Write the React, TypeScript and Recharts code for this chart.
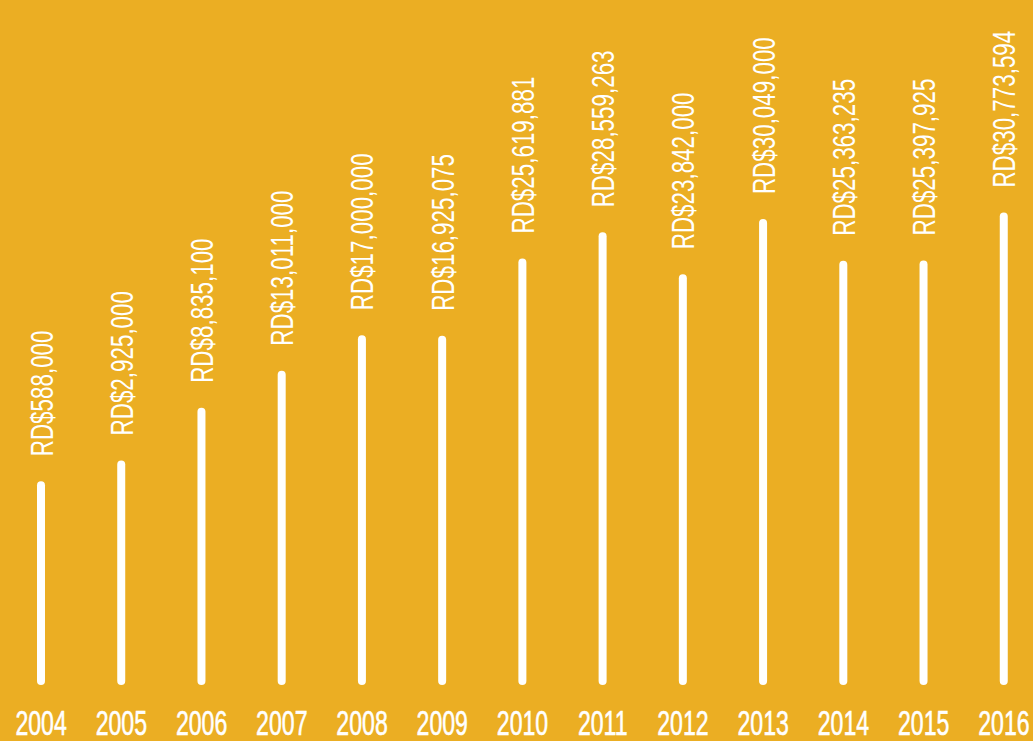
import { BarChart, Bar, XAxis, YAxis, LabelList } from "recharts";

const years = ["2004", "2005", "2006", "2007", "2008", "2009", "2010", "2011", "2012", "2013", "2014", "2015", "2016"];
const amounts = [588000, 2925000, 8835100, 13011000, 17000000, 16925075, 25619881, 28559263, 23842000, 30049000, 25363235, 25397925, 30773594];

const BG = "#EBAE23";
// the bars do not start at zero in the original, so the scale has a floor below it
const AXIS_MIN = -22310000;
const AXIS_MAX = 35000000;

const data = years.map((year, i) => ({ year, value: amounts[i] }));

const ValueLabel = (props: any) => {
  const { x, y, width, height, value } = props;
  const top = Math.min(y, y + height);
  const cx = x + width / 2;
  return (
    <text
      transform={`translate(${cx}, ${top - 25}) rotate(-90) scale(0.7, 1)`}
      y={11.5}
      fill="#fff"
      fontSize={32}
      fontFamily="'Liberation Sans', Arial, sans-serif"
      textAnchor="start"
    >
      {"RD$" + Number(value).toLocaleString("en-US")}
    </text>
  );
};

const YearTick = (props: any) => {
  const { x, y, payload } = props;
  return (
    <text
      transform={`translate(${x}, ${y + 50}) scale(0.66, 1)`}
      fill="#fff"
      fontSize={35}
      stroke="#fff"
      strokeWidth={0.6}
      fontFamily="'Liberation Sans', Arial, sans-serif"
      textAnchor="middle"
    >
      {payload.value}
    </text>
  );
};

export default function App() {
  return (
    <div style={{ position: "fixed", top: 0, left: 0, width: 1033, height: 741, overflow: "hidden", background: BG }}>
      <BarChart
        width={1044}
        height={741}
        data={data}
        margin={{ top: 175, right: 0, left: 1, bottom: 0 }}
        barCategoryGap={0}
      >
        <XAxis
          dataKey="year"
          height={56}
          axisLine={false}
          tickLine={false}
          tickSize={0}
          tickMargin={0}
          interval={0}
          tick={<YearTick />}
        />
        <YAxis hide type="number" domain={[AXIS_MIN, AXIS_MAX]} allowDataOverflow />
        <Bar
          dataKey={(d: any) => [AXIS_MIN, d.value]}
          fill="#fff"
          barSize={8}
          radius={4}
          isAnimationActive={false}
        >
          <LabelList dataKey="value" content={<ValueLabel />} />
        </Bar>
      </BarChart>
    </div>
  );
}
